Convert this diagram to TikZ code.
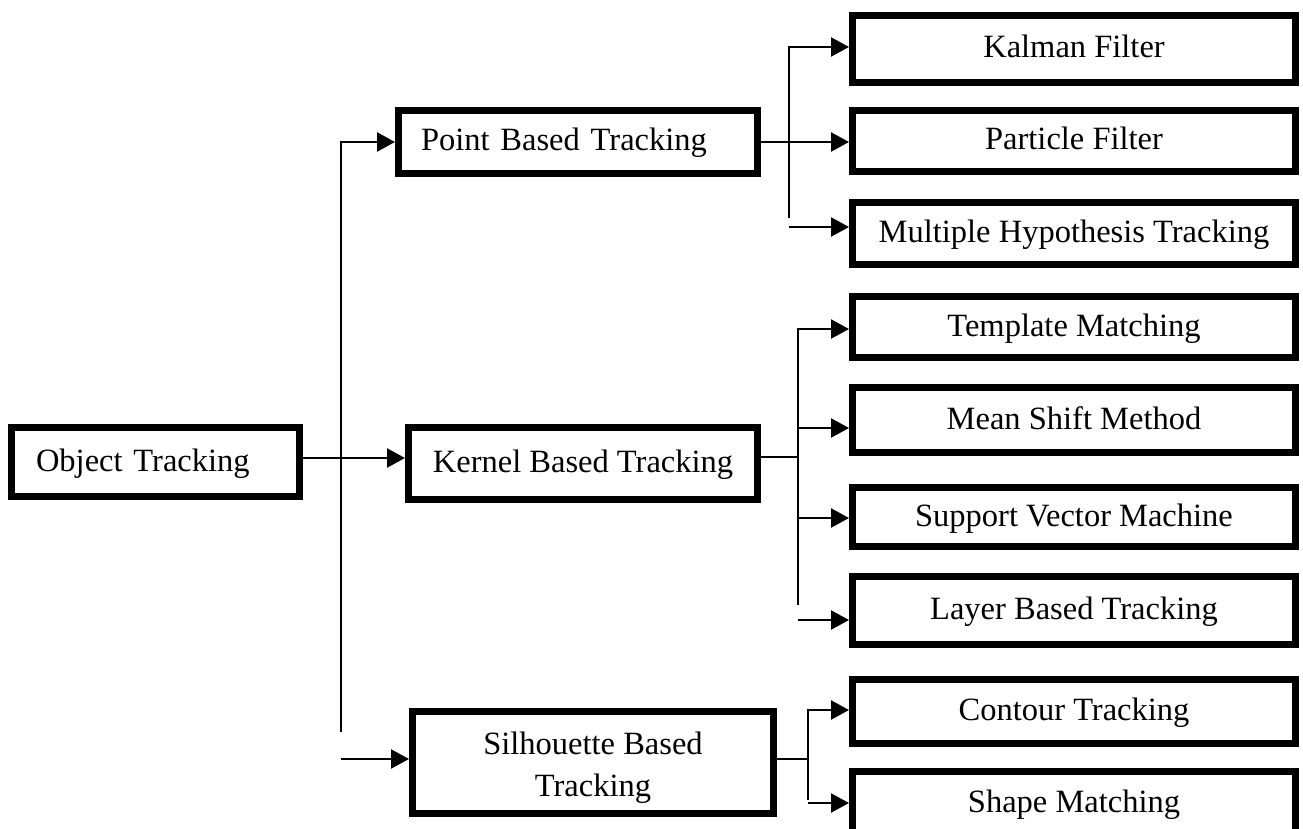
\documentclass[tikz,border=0pt]{standalone}
\usepackage{fontspec}
\setmainfont{Liberation Serif}
\usetikzlibrary{arrows.meta}
\begin{document}
\begin{tikzpicture}[x=1pt,y=-1pt,
  box/.style={draw, line width=7pt, rectangle, inner sep=0pt,
    font=\fontsize{32.5}{42}\selectfont, align=center},
  onebox/.style={box, text height=25pt, text depth=7pt},
  rbox/.style={onebox, minimum width=443pt},
  conn/.style={line width=2.3pt},
  arr/.style={conn, -{Triangle[length=18pt,width=19pt]}}]
\useasboundingbox (0,0) rectangle (1303,829);
% main boxes
\node[onebox, minimum width=288pt, minimum height=69pt, text width=239pt, align=left] (obj) at (155.5,462) {Object Tracking};
\node[onebox, minimum width=359pt, minimum height=63pt, text width=314pt, align=left] (point) at (578,142) {Point Based Tracking};
\node[onebox, minimum width=349pt, minimum height=72pt] (kern) at (583,463.5) {Kernel Based Tracking};
\node[box, minimum width=361pt, minimum height=102pt] (sil) at (593,762.5) {\rule{0pt}{32pt}Silhouette Based\\Tracking};
% right boxes
\node[rbox, minimum height=67pt] (kal) at (1074,49) {Kalman Filter};
\node[rbox, minimum height=61pt] (par) at (1074,141) {Particle Filter};
\node[rbox, minimum height=62pt] (mht) at (1074,233.5) {Multiple Hypothesis Tracking};
\node[rbox, minimum height=61pt] (tem) at (1074,327) {Template Matching};
\node[rbox, minimum height=65pt] (mea) at (1074,420) {Mean Shift Method};
\node[rbox, minimum height=59pt] (svm) at (1074,517) {Support Vector Machine};
\node[rbox, minimum height=68pt] (lay) at (1074,610.5) {Layer Based Tracking};
\node[rbox, minimum height=64pt] (con) at (1074,711.5) {Contour Tracking};
\node[rbox, minimum height=63pt] (sha) at (1074,803) {Shape Matching};
% coordinates
\coordinate (v1t) at (341,142);
\coordinate (v1b) at (341,732);
\coordinate (h1) at (0,458);
\coordinate (s1) at (341,759);
\coordinate (p1) at (789,47);
\coordinate (p2) at (789,218);
\coordinate (p3) at (789,227);
\coordinate (kh) at (798,457);
\coordinate (k1) at (798,329);
\coordinate (km) at (798,428);
\coordinate (ks) at (798,518);
\coordinate (k2) at (798,605);
\coordinate (k3) at (798,620);
\coordinate (ch) at (808,759);
\coordinate (c1) at (808,710);
\coordinate (c2) at (808,800);
\coordinate (c3) at (808,803);
% level 1 connectors
\draw[arr] (v1b) -- (v1t) -- (point.west);
\draw[arr] (obj.east |- h1) -- (kern.west |- h1);
\draw[arr] (s1) -- (sil.west |- s1);
% point group
\draw[arr] (p2) -- (p1) -- (kal.west |- p1);
\draw[arr] (point.east) -- (par.west |- point.east);
\draw[arr] (p3) -- (mht.west |- p3);
% kernel group
\draw[conn] (kern.east |- kh) -- (kh);
\draw[arr] (k2) -- (k1) -- (tem.west |- k1);
\draw[arr] (km) -- (mea.west |- km);
\draw[arr] (ks) -- (svm.west |- ks);
\draw[arr] (k3) -- (lay.west |- k3);
% silhouette group
\draw[conn] (sil.east |- ch) -- (ch);
\draw[arr] (c2) -- (c1) -- (con.west |- c1);
\draw[arr] (c3) -- (sha.west |- c3);
\end{tikzpicture}
\end{document}
